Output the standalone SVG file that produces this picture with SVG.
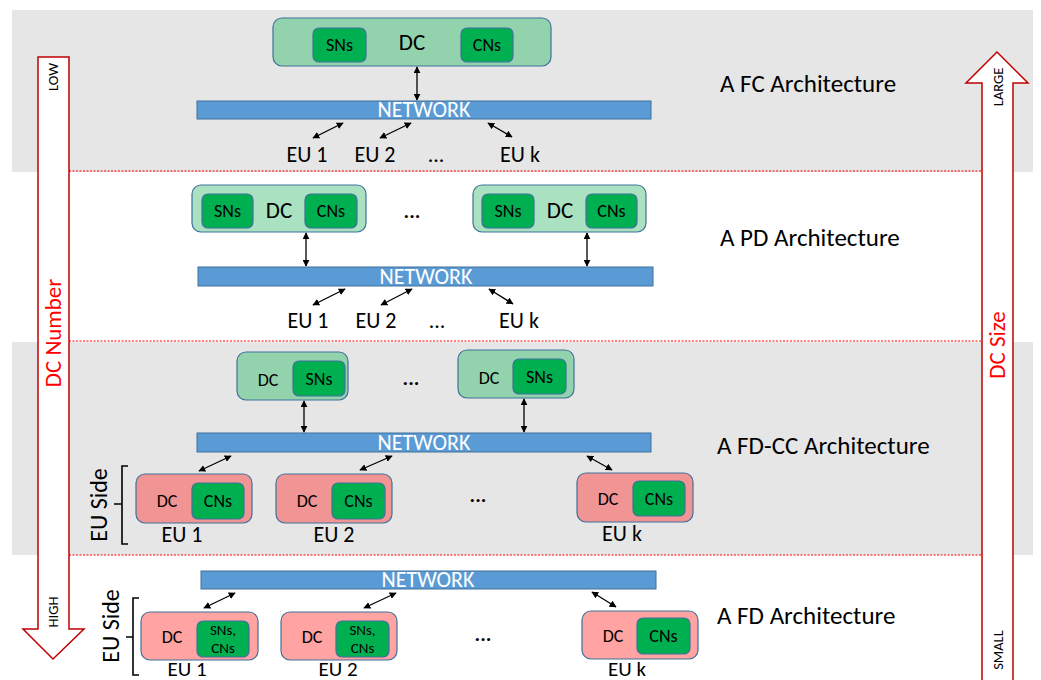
<svg xmlns="http://www.w3.org/2000/svg" width="1041" height="680" viewBox="0 0 1041 680">
<defs>
<marker id="ah" viewBox="0 0 10 10" refX="9" refY="5" markerWidth="7" markerHeight="7" orient="auto-start-reverse" markerUnits="userSpaceOnUse">
<path d="M0,0 L10,5 L0,10 z" fill="#000"/>
</marker>
<style>
text{font-family:Carlito,Lato,"Open Sans",sans-serif;fill:#000}
.band{fill:#e6e6e6}
.sep{stroke:#ff0000;stroke-width:1;stroke-dasharray:2,1.5;fill:none}
.bigarrow{fill:#fff;stroke:#c00000;stroke-width:1.5}
.dcg{fill:#92d3ad;stroke:#41719c;stroke-width:1.2}
.dcw{fill:#a9e1c1;stroke:#41719c;stroke-width:1.2}
.inner{fill:#00b050;stroke:#41719c;stroke-width:1.2}
.eug{fill:#f09494;stroke:#41719c;stroke-width:1.2}
.euw{fill:#ffa3a3;stroke:#41719c;stroke-width:1.2}
.net{fill:#5b9bd5;stroke:#41719c;stroke-width:1}
.nett{fill:#fff;font-size:22px;text-anchor:middle}
.conn{stroke:#000;stroke-width:1.3;fill:none;marker-start:url(#ah);marker-end:url(#ah)}
.brace{stroke:#000;stroke-width:1.6;fill:none}
.lbl{font-size:22px;text-anchor:middle}
.lbls{font-size:21px;text-anchor:middle}
.arch{font-size:25px}
.dcbig{font-size:23px;text-anchor:middle}
.dcs{font-size:18px;text-anchor:middle}
.nd{font-size:18px;text-anchor:middle}
.nds{font-size:15px;text-anchor:middle}
.side{font-size:24px;text-anchor:middle}
.red{fill:#ff0000;font-size:23px;text-anchor:middle}
.tiny{font-size:14.5px;text-anchor:middle}
.dots{font-size:21px;text-anchor:middle;font-weight:bold}
</style>
</defs>

<g id="background">
<rect class="band" x="12" y="10" width="1021" height="162"/>
<rect class="band" x="12" y="342" width="1021" height="213"/>
<line class="sep" x1="69" y1="171" x2="981" y2="171"/>
<line class="sep" x1="69" y1="341" x2="981" y2="341"/>
<line class="sep" x1="69" y1="555" x2="981" y2="555"/>
</g>

<g id="dc-number-arrow">
<polygon class="bigarrow" points="38,57 69,57 69,629 84,629 53,659 23,629 38,629"/>
<text class="tiny" transform="translate(58,77) rotate(-90)">LOW</text>
<text class="red" transform="translate(61,333) rotate(-90)">DC Number</text>
<text class="tiny" transform="translate(58,612) rotate(-90)">HIGH</text>
</g>

<g id="dc-size-arrow">
<polygon class="bigarrow" points="982,690 982,83 966,83 997,52 1028,83 1013,83 1013,690"/>
<text class="tiny" transform="translate(1003,87) rotate(-90)">LARGE</text>
<text class="red" transform="translate(1005,345) rotate(-90)">DC Size</text>
<text class="tiny" transform="translate(1003,650) rotate(-90)">SMALL</text>
</g>

<!-- FC -->
<g id="fc-dc">
<rect class="dcg" x="273" y="18" width="278" height="48" rx="9"/>
<rect class="inner" x="313" y="28" width="53" height="34" rx="6"/>
<rect class="inner" x="461" y="28" width="52" height="34" rx="6"/>
<text class="dcbig" x="412" y="50">DC</text>
<text class="nd" x="339.5" y="51">SNs</text>
<text class="nd" x="487" y="51">CNs</text>
</g>
<g id="fc-network">
<rect class="net" x="197" y="101" width="454" height="18"/>
<text class="nett" x="424" y="117">NETWORK</text>
</g>
<g id="fc-eus">
<text class="lbl" x="307" y="162">EU 1</text>
<text class="lbl" x="375" y="162">EU 2</text>
<text class="lbl" x="436" y="162">...</text>
<text class="lbl" x="520" y="162">EU k</text>
</g>
<text id="fc-label" class="arch" x="720" y="92">A FC Architecture</text>

<!-- PD -->
<g id="pd-dc1">
<rect class="dcw" x="192" y="185" width="174" height="47" rx="9"/>
<rect class="inner" x="202" y="194" width="51" height="34" rx="6"/>
<rect class="inner" x="305" y="194" width="52" height="34" rx="6"/>
<text class="dcbig" x="279" y="218">DC</text>
<text class="nd" x="227.5" y="217">SNs</text>
<text class="nd" x="331" y="217">CNs</text>
</g>
<text id="pd-dots" class="dots" x="412" y="218">...</text>
<g id="pd-dc2">
<rect class="dcw" x="473" y="185" width="173" height="47" rx="9"/>
<rect class="inner" x="482" y="194" width="52" height="34" rx="6"/>
<rect class="inner" x="586" y="194" width="51" height="34" rx="6"/>
<text class="dcbig" x="560" y="218">DC</text>
<text class="nd" x="508" y="217">SNs</text>
<text class="nd" x="611.5" y="217">CNs</text>
</g>
<g id="pd-network">
<rect class="net" x="198" y="267" width="455" height="19"/>
<text class="nett" x="426" y="284">NETWORK</text>
</g>
<g id="pd-eus">
<text class="lbl" x="308" y="328">EU 1</text>
<text class="lbl" x="376" y="328">EU 2</text>
<text class="lbl" x="437" y="328">...</text>
<text class="lbl" x="519" y="328">EU k</text>
</g>
<text id="pd-label" class="arch" x="720" y="246">A PD Architecture</text>

<!-- FD-CC -->
<g id="fdcc-dc1">
<rect class="dcg" x="237" y="352" width="111" height="48" rx="9"/>
<rect class="inner" x="293" y="361" width="52" height="35" rx="6"/>
<text class="dcs" x="268" y="386">DC</text>
<text class="nd" x="319" y="385">SNs</text>
</g>
<text id="fdcc-dots1" class="dots" x="411" y="385">...</text>
<g id="fdcc-dc2">
<rect class="dcg" x="458" y="350" width="116" height="48" rx="9"/>
<rect class="inner" x="513" y="359" width="53" height="35" rx="6"/>
<text class="dcs" x="489" y="384">DC</text>
<text class="nd" x="539.5" y="383">SNs</text>
</g>
<g id="fdcc-network">
<rect class="net" x="197" y="433" width="454" height="19"/>
<text class="nett" x="424" y="450">NETWORK</text>
</g>
<g id="fdcc-eu1">
<rect class="eug" x="136" y="474" width="116" height="49" rx="9"/>
<rect class="inner" x="192" y="483" width="52" height="36" rx="6"/>
<text class="dcs" x="167" y="507">DC</text>
<text class="nd" x="218" y="507">CNs</text>
<text class="lbl" x="182" y="542">EU 1</text>
</g>
<g id="fdcc-eu2">
<rect class="eug" x="276" y="474" width="116" height="49" rx="9"/>
<rect class="inner" x="332" y="483" width="53" height="36" rx="6"/>
<text class="dcs" x="307" y="507">DC</text>
<text class="nd" x="358.5" y="507">CNs</text>
<text class="lbl" x="334" y="542">EU 2</text>
</g>
<text id="fdcc-dots2" class="dots" x="478" y="502">...</text>
<g id="fdcc-euk">
<rect class="eug" x="577" y="473" width="116" height="49" rx="9"/>
<rect class="inner" x="633" y="481" width="52" height="35" rx="6"/>
<text class="dcs" x="608" y="505">DC</text>
<text class="nd" x="659" y="505">CNs</text>
<text class="lbl" x="622" y="541">EU k</text>
</g>
<g id="fdcc-side">
<path class="brace" d="M128,466 L122,466 L122,544 L128,544 M122,504 L114,504"/>
<text class="side" transform="translate(107,505) rotate(-90)">EU Side</text>
</g>
<text id="fdcc-label" class="arch" x="717" y="454">A FD-CC Architecture</text>

<!-- FD -->
<g id="fd-network">
<rect class="net" x="201" y="571" width="455" height="18"/>
<text class="nett" x="428" y="587">NETWORK</text>
</g>
<g id="fd-eu1">
<rect class="euw" x="141" y="612" width="117" height="48" rx="9"/>
<rect class="inner" x="197" y="621" width="52" height="36" rx="6"/>
<text class="dcs" x="172" y="643">DC</text>
<text class="nds" x="223" y="635">SNs,</text>
<text class="nds" x="223" y="653">CNs</text>
<text class="lbls" x="187" y="676">EU 1</text>
</g>
<g id="fd-eu2">
<rect class="euw" x="281" y="612" width="116" height="48" rx="9"/>
<rect class="inner" x="336" y="621" width="53" height="36" rx="6"/>
<text class="dcs" x="312" y="643">DC</text>
<text class="nds" x="362.5" y="635">SNs,</text>
<text class="nds" x="362.5" y="653">CNs</text>
<text class="lbls" x="338" y="676">EU 2</text>
</g>
<text id="fd-dots" class="dots" x="483" y="641">...</text>
<g id="fd-euk">
<rect class="euw" x="582" y="611" width="116" height="48" rx="9"/>
<rect class="inner" x="637" y="618" width="53" height="36" rx="6"/>
<text class="dcs" x="613" y="642">DC</text>
<text class="nd" x="663.5" y="642">CNs</text>
<text class="lbls" x="627" y="676">EU k</text>
</g>
<g id="fd-side">
<path class="brace" d="M139,598 L133,598 L133,675 L139,675 M133,637 L126,637"/>
<text class="side" transform="translate(119,626) rotate(-90)">EU Side</text>
</g>
<text id="fd-label" class="arch" x="717" y="624">A FD Architecture</text>

<g id="connectors">
<line class="conn" x1="417" y1="67" x2="417" y2="100"/>
<line class="conn" x1="313" y1="138" x2="343" y2="123"/>
<line class="conn" x1="380" y1="138" x2="411" y2="123"/>
<line class="conn" x1="488" y1="123" x2="512" y2="137"/>

<line class="conn" x1="306" y1="233" x2="306" y2="266"/>
<line class="conn" x1="587" y1="233" x2="587" y2="266"/>
<line class="conn" x1="313" y1="305" x2="345" y2="289"/>
<line class="conn" x1="381" y1="305" x2="412" y2="289"/>
<line class="conn" x1="489" y1="289" x2="513" y2="304"/>

<line class="conn" x1="304" y1="401" x2="304" y2="432"/>
<line class="conn" x1="524" y1="399" x2="524" y2="432"/>
<line class="conn" x1="199" y1="471" x2="231" y2="456"/>
<line class="conn" x1="360" y1="470" x2="392" y2="456"/>
<line class="conn" x1="587" y1="456" x2="612" y2="470"/>

<line class="conn" x1="204" y1="608" x2="235" y2="593"/>
<line class="conn" x1="364" y1="608" x2="396" y2="593"/>
<line class="conn" x1="592" y1="592" x2="616" y2="607"/>
</g>
</svg>
